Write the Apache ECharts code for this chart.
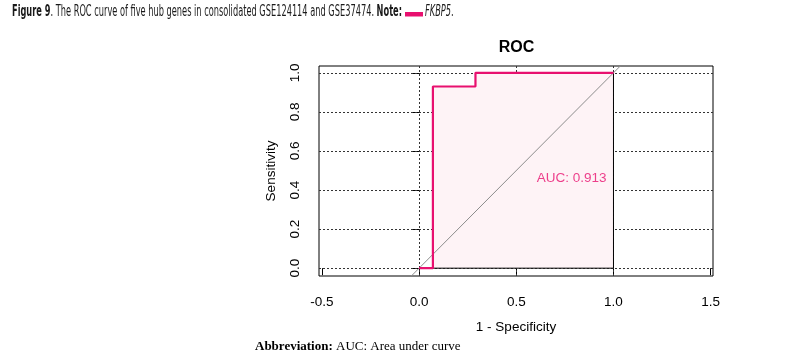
<!DOCTYPE html>
<html><head><meta charset="utf-8">
<script src="https://cdn.jsdelivr.net/npm/echarts@6/dist/echarts.min.js"></script>
<style>html,body{margin:0;padding:0;background:#fff}#c{width:811px;height:358px}</style>
</head><body><div id="c"></div>
<script>
// ---- data ----
const fpr = [0, 0.071, 0.071, 0.29, 0.29, 1.0];      // 1 - specificity
const tpr = [0, 0, 0.93, 0.93, 1.0, 1.0];            // sensitivity
const xTicks = [-0.5, 0, 0.5, 1.0, 1.5];
const yTicks = [0, 0.2, 0.4, 0.6, 0.8, 1.0];
const xGrid = [0, 0.5, 1.0];
const yGrid = [0, 0.2, 0.4, 0.6, 0.8, 1.0];
const aucValue = 0.913;
const aucLabelPos = [0.785, 0.46];
const xRange = [-0.515, 1.512];
const yRange = [-0.04, 1.035];

// ---- derived ----
const curve = fpr.map((x, i) => [x, tpr[i]]);
const border = curve.concat([[1, 0], [0, 0]]);
const diag = [[yRange[0], yRange[0]], [yRange[1], yRange[1]]];

const PINK = '#e8106f';
const FILL = '#fef3f6';
const FONT = 'Liberation Sans';
const HFONT = 'DejaVu Sans';

// header text fitting
const ctx = document.createElement('canvas').getContext('2d');
function w(txt, font) { ctx.font = font; return ctx.measureText(txt).width; }
const HF = 15.5;
const h1 = 'Figure 9', h2 = '. The ROC curve of five hub genes in consolidated GSE124114 and GSE37474. ', h3 = 'Note:';
const rawW = w(h1, 'bold ' + HF + 'px "' + HFONT + '"') + w(h2, HF + 'px "' + HFONT + '"') + w(h3, 'bold ' + HF + 'px "' + HFONT + '"');
const headX = 12, headEnd = 402;
const sx = (headEnd - headX) / rawW;

const chart = echarts.init(document.getElementById('c'), null, {renderer: 'canvas'});
chart.setOption({
  animation: false,
  backgroundColor: '#fff',
  grid: {left: 319, right: 98, top: 66, bottom: 82, show: true, borderColor: '#000', borderWidth: 1, backgroundColor: 'transparent'},
  xAxis: {
    type: 'value', min: xRange[0], max: xRange[1],
    name: '1 - Specificity', nameLocation: 'middle', nameGap: 44,
    nameTextStyle: {color: '#000', fontSize: 13.5, fontFamily: FONT},
    axisLine: {show: false},
    axisTick: {show: true, customValues: xTicks, length: 7, inside: false, lineStyle: {color: '#000', width: 1}},
    axisLabel: {customValues: xTicks, color: '#000', fontSize: 13.5, fontFamily: FONT, margin: 19, hideOverlap: false,
      formatter: v => v.toFixed(1)},
    splitLine: {show: false}
  },
  yAxis: {
    type: 'value', min: yRange[0], max: yRange[1],
    name: 'Sensitivity', nameLocation: 'middle', nameGap: 41, nameRotate: 90,
    nameTextStyle: {color: '#000', fontSize: 13.5, fontFamily: FONT},
    axisLine: {show: false},
    axisTick: {show: true, customValues: yTicks, length: 7, inside: false, lineStyle: {color: '#000', width: 1}},
    axisLabel: {customValues: yTicks, color: '#000', fontSize: 13.5, fontFamily: FONT, margin: 17, rotate: 90, hideOverlap: false,
      formatter: v => v.toFixed(1)},
    splitLine: {show: false}
  },
  series: [
    { // grid lines
      type: 'line', data: [], z: 1, silent: true,
      markLine: {
        silent: true, symbol: 'none', z: 1, animation: false,
        label: {show: false},
        lineStyle: {color: '#333', type: [2, 2], width: 1},
        data: xGrid.map(v => ({xAxis: v})).concat(yGrid.map(v => ({yAxis: v})))
      }
    },
    { // AUC polygon fill
      type: 'line', data: curve, z: 2, symbol: 'none', silent: true,
      lineStyle: {width: 0}, areaStyle: {color: FILL, opacity: 1, origin: 'auto'}
    },
    { // polygon border
      type: 'line', data: border, z: 3, symbol: 'none', silent: true,
      lineStyle: {color: '#000', width: 1}
    },
    { // diagonal
      type: 'line', data: diag, z: 4, symbol: 'none', silent: true,
      lineStyle: {color: '#8c8c8c', width: 1}
    },
    { // ROC curve
      type: 'line', data: curve, z: 5, symbol: 'none', silent: true,
      lineStyle: {color: PINK, width: 2.2}
    },
    { // AUC label
      type: 'scatter', data: [aucLabelPos], z: 6, symbolSize: 0, silent: true,
      label: {show: true, position: 'inside', formatter: 'AUC: ' + aucValue.toFixed(3), color: PINK, fontSize: 13.5, fontFamily: FONT}
    }
  ],
  graphic: [
    {type: 'text', x: 516.5, y: 48, style: {text: 'ROC', fontSize: 16, fontWeight: 'bold', fontFamily: FONT, fill: '#000', textAlign: 'center', textVerticalAlign: 'middle'}},
    {type: 'text', x: headX, y: 11.5, scaleX: sx, originX: 0,
      style: {
        text: '{b|' + h1 + '}{n|' + h2 + '}{b|' + h3 + '}',
        textVerticalAlign: 'middle',
        rich: {
          b: {fontSize: HF, fontWeight: 'bold', fontFamily: HFONT, fill: '#1a1a1a'},
          n: {fontSize: HF, fontFamily: HFONT, fill: '#1a1a1a'}
        }
      }},
    {type: 'rect', shape: {x: headEnd + 3, y: 12, width: 18, height: 4.5}, style: {fill: PINK}},
    {type: 'text', x: headEnd + 23, y: 11.5, scaleX: sx, originX: 0,
      style: {text: '{i|FKBP5}{n|.}', textVerticalAlign: 'middle',
        rich: {i: {fontSize: HF, fontStyle: 'italic', fontFamily: HFONT, fill: '#1a1a1a'}, n: {fontSize: HF, fontFamily: HFONT, fill: '#1a1a1a'}}}},
    {type: 'text', x: 255, y: 347,
      style: {text: '{b|Abbreviation:}{n| AUC: Area under curve}', textVerticalAlign: 'middle',
        rich: {b: {fontSize: 13, fontWeight: 'bold', fontFamily: 'Liberation Serif', fill: '#000'}, n: {fontSize: 13, fontFamily: 'Liberation Serif', fill: '#000'}}}}
  ]
});
</script></body></html>
